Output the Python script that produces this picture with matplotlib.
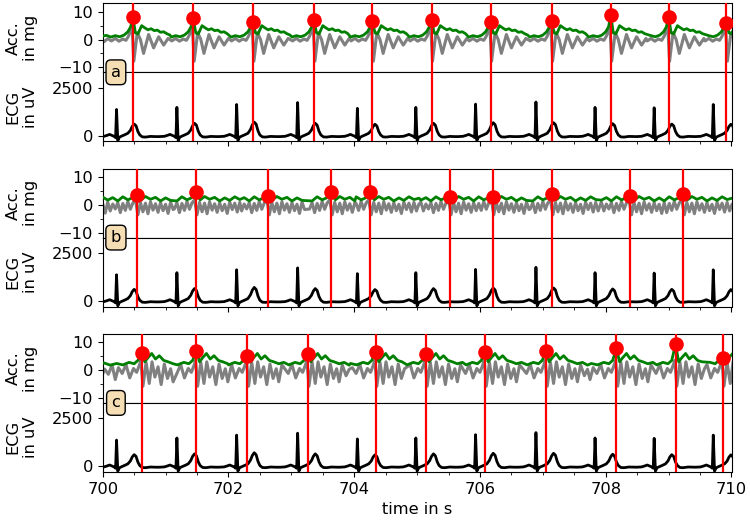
import numpy as np
import matplotlib
matplotlib.use("Agg")
import matplotlib.pyplot as plt
from matplotlib.ticker import MultipleLocator, FixedLocator

# ---------------- data ----------------
x_limits = (700, 710)
panel_labels = ["a", "b", "c"]

# ECG (same recording in all three panels)
ecg_r_times = [700.22, 701.18, 702.13, 703.10, 704.05, 704.98, 705.93, 706.89, 707.83, 708.77, 709.71]
ecg_r_heights = [1360, 1470, 1620, 1720, 1420, 1470, 1640, 1750, 1470, 1450, 1620]
ecg_t_heights = [600, 640, 700, 640, 590, 640, 670, 670, 620, 600, 590]
# shape of one beat: offset from R (s), base value (uV), share of R, share of T
ecg_beat_offsets = [-0.45, -0.36, -0.28, -0.20, -0.15, -0.11, -0.07, -0.04, -0.015, 0.0, 0.02, 0.045, 0.08,
                    0.13, 0.18, 0.22, 0.25, 0.28, 0.31, 0.34, 0.37, 0.41, 0.46, 0.54, 0.62, 0.70]
ecg_beat_values = [-50, -40, -55, -40, 10, 60, 0, -40, -110, 0, -260, -90, -30,
                   40, 120, 0, 0, 0, 0, 0, 30, -70, -80, -45, -55, -40]
ecg_beat_rshare = [0, 0, 0, 0, 0, 0, 0, 0, 0, 1, 0, 0, 0,
                   0, 0, 0, 0, 0, 0, 0, 0, 0, 0, 0, 0, 0]
ecg_beat_tshare = [0, 0, 0, 0, 0, 0, 0, 0, 0, 0, 0, 0, 0,
                   0, 0, 0.45, 0.8, 1.0, 0.85, 0.35, 0, 0, 0, 0, 0, 0]

# detected peaks (red lines / dots) per panel
a_peak_times = [700.48, 701.44, 702.39, 703.36, 704.29, 705.23, 706.17, 707.14, 708.08, 709.00, 709.92]
a_peak_values = [8.1, 7.6, 6.3, 6.9, 6.6, 7.2, 6.3, 6.5, 8.8, 8.1, 5.9]
b_peak_times = [700.54, 701.48, 702.63, 703.63, 704.25, 705.52, 706.20, 707.14, 708.39, 709.23]
b_peak_values = [3.6, 4.5, 3.3, 4.8, 4.5, 3.0, 3.0, 3.8, 3.3, 3.8]
c_peak_times = [700.62, 701.49, 702.30, 703.26, 704.34, 705.14, 706.08, 707.05, 708.17, 709.11, 709.86]
c_peak_values = [6.1, 7.0, 5.2, 5.7, 6.7, 5.7, 6.5, 7.0, 7.8, 9.3, 4.5]

# acceleration shape around each detected peak (offset in s, value in mg)
a_raw_offsets = [-0.70, -0.64, -0.58, -0.52, -0.46, -0.40, -0.34, -0.28, -0.22, -0.16, -0.11, -0.07,
                 -0.04, -0.015, 0.015, 0.07, 0.12, 0.17, 0.25, 0.33, 0.41, 0.49, 0.56, 0.63, 0.70,
                 0.77, 0.84, 0.92, 1.00]
a_raw_values = [-0.3, 0.3, -0.6, 0.2, -0.8, 0.3, -0.5, 0.4, -0.6, 0.2, -0.3, 1.2,
                3.0, 5.5, -7.8, 2.5, 0.0, -5.0, 1.8, -3.0, 1.0, -2.0, 0.4, -1.2, 0.3,
                -0.9, 0.2, -0.5, 0.0]
a_env_offsets = [-0.70, -0.63, -0.56, -0.49, -0.42, -0.35, -0.28, -0.21, -0.14, -0.08, -0.035, 0.0,
                 0.04, 0.08, 0.14, 0.19, 0.24, 0.29, 0.34, 0.39, 0.44, 0.49, 0.54, 0.59,
                 0.65, 0.72, 0.80, 0.88, 0.95, 1.00]
a_env_values = [1.6, 1.1, 1.7, 1.2, 1.5, 0.9, 1.4, 1.0, 1.6, 2.8, 4.6, 0.0,
                2.4, 2.0, 5.0, 4.2, 3.5, 3.9, 3.2, 3.4, 2.6, 2.8, 2.1, 1.6,
                1.9, 1.3, 1.6, 1.1, 1.5, 1.3]

b_raw_offsets = [-0.70, -0.66, -0.62, -0.58, -0.54, -0.50, -0.46, -0.42, -0.38, -0.34, -0.30, -0.26,
                 -0.22, -0.18, -0.14, -0.10, -0.06, -0.02, 0.02, 0.06, 0.10, 0.14, 0.18, 0.22,
                 0.26, 0.30, 0.34, 0.38, 0.42, 0.46, 0.50, 0.54, 0.58, 0.62, 0.66, 0.70,
                 0.74, 0.78, 0.82, 0.86, 0.90, 0.94, 0.98]
b_raw_values = [0.6, -2.4, 0.9, -1.8, 0.4, -3.0, 1.0, -2.2, 0.3, -1.5, 0.8, -2.8,
                0.5, -2.0, 1.2, -1.6, 0.7, 1.8, -3.6, 0.9, -2.5, 0.6, -3.2, 1.1,
                -1.9, 0.4, -2.7, 0.8, -2.1, 0.2, -3.1, 1.0, -1.7, 0.6, -2.6, 0.9,
                -2.2, 0.3, -1.4, 0.7, -2.9, 0.5, -2.0]
b_env_offsets = [-0.70, -0.62, -0.54, -0.46, -0.38, -0.30, -0.22, -0.14, -0.07, 0.0, 0.07, 0.14,
                 0.22, 0.30, 0.38, 0.46, 0.54, 0.62, 0.70, 0.78, 0.86, 0.94, 1.00]
b_env_values = [2.4, 1.5, 2.8, 1.7, 2.6, 1.4, 2.9, 1.8, 2.5, 0.0, 1.8, 3.0,
                2.0, 2.7, 1.4, 2.5, 1.6, 2.9, 1.9, 2.4, 1.3, 2.6, 2.0]

c_raw_offsets = [-0.70, -0.64, -0.59, -0.53, -0.47, -0.42, -0.37, -0.31, -0.25, -0.19, -0.13, -0.08,
                 -0.04, -0.012, 0.02, 0.07, 0.12, 0.165, 0.21, 0.26, 0.31, 0.36, 0.41, 0.46,
                 0.50, 0.55, 0.61, 0.66, 0.72, 0.77, 0.83, 0.88, 0.94, 1.00]
c_raw_values = [1.2, -2.6, 0.4, -1.5, 1.8, -3.4, 0.9, -1.2, 2.0, -2.8, 0.6, -0.8,
                1.6, 3.5, -5.8, 2.8, -4.8, 3.0, -2.5, 1.2, -5.2, 2.2, -3.0, 0.5,
                -4.2, 1.9, -2.0, 0.3, -3.4, 1.4, -1.6, 0.8, -2.4, 0.5]
c_env_offsets = [-0.70, -0.60, -0.50, -0.40, -0.30, -0.20, -0.12, -0.06, 0.0, 0.05, 0.10, 0.16,
                 0.22, 0.28, 0.35, 0.42, 0.50, 0.58, 0.66, 0.74, 0.82, 0.90, 1.00]
c_env_values = [2.0, 2.6, 1.8, 2.4, 1.9, 2.8, 2.3, 3.5, 0.0, 3.0, 4.5, 6.0,
                4.0, 5.2, 3.5, 3.0, 2.3, 2.8, 1.8, 2.4, 1.7, 2.5, 2.0]

peak_times = [a_peak_times, b_peak_times, c_peak_times]
peak_values = [a_peak_values, b_peak_values, c_peak_values]
raw_shapes = [(a_raw_offsets, a_raw_values), (b_raw_offsets, b_raw_values), (c_raw_offsets, c_raw_values)]
env_shapes = [(a_env_offsets, a_env_values), (b_env_offsets, b_env_values), (c_env_offsets, c_env_values)]


def assemble(times, offsets, values, split=0.62, peak=None):
    """Place the read beat shape at every event time (no interpolation)."""
    offsets = np.asarray(offsets, float)
    ts, vs = [], []
    for i, t0 in enumerate(times):
        lo = -np.inf if i == 0 else times[i - 1] + split * (t0 - times[i - 1]) - t0
        hi = np.inf if i == len(times) - 1 else split * (times[i + 1] - t0)
        vals = np.asarray(values, float).copy()
        if peak is not None:
            vals[offsets == 0.0] = peak[i]
        m = (offsets >= lo) & (offsets < hi)
        ts.append(t0 + offsets[m])
        vs.append(vals[m])
    return np.concatenate(ts), np.concatenate(vs)


def assemble_ecg():
    off = np.asarray(ecg_beat_offsets, float)
    base = np.asarray(ecg_beat_values, float)
    rs = np.asarray(ecg_beat_rshare, float)
    tsh = np.asarray(ecg_beat_tshare, float)
    ts, vs = [], []
    n = len(ecg_r_times)
    for i, t0 in enumerate(ecg_r_times):
        lo = -np.inf if i == 0 else ecg_r_times[i - 1] + 0.68 * (t0 - ecg_r_times[i - 1]) - t0
        hi = np.inf if i == n - 1 else 0.68 * (ecg_r_times[i + 1] - t0)
        v = base + rs * ecg_r_heights[i] + tsh * ecg_t_heights[i]
        m = (off >= lo) & (off < hi)
        ts.append(t0 + off[m])
        vs.append(v[m])
    return np.concatenate(ts), np.concatenate(vs)


# ---------------- figure ----------------
plt.rcParams['font.family'] = ['DejaVu Sans']
FS = 11.7
fig = plt.figure(figsize=(7.5, 5.24), dpi=100)
W_px, H_px = 750.0, 524.0
left_px, right_px = 102.7, 731.5
panel_tops = [3.3, 168.6, 333.9]
half = 69.0

ecg_t, ecg_v = assemble_ecg()

for k in range(3):
    top = panel_tops[k]
    ax_acc = fig.add_axes([left_px / W_px, 1 - (top + half) / H_px, (right_px - left_px) / W_px, half / H_px])
    ax_ecg = fig.add_axes([left_px / W_px, 1 - (top + 2 * half) / H_px, (right_px - left_px) / W_px, half / H_px])

    rt, rv = assemble(peak_times[k], *raw_shapes[k])
    et, ev = assemble(peak_times[k], *env_shapes[k], peak=peak_values[k])
    ax_acc.plot(rt, rv, color='gray', lw=2.2, zorder=2)
    ax_acc.plot(et, ev, color='green', lw=2.0, zorder=3)
    for t in peak_times[k]:
        ax_acc.axvline(t, color='red', lw=1.6, zorder=4)
        ax_ecg.axvline(t, color='red', lw=1.6, zorder=4)
    ax_acc.plot(peak_times[k], peak_values[k], 'o', color='red', ms=9.5, zorder=5)

    ax_ecg.plot(ecg_t, ecg_v, color='black', lw=2.0, zorder=3)

    for ax in (ax_acc, ax_ecg):
        ax.set_xlim(*x_limits)
        ax.xaxis.set_major_locator(MultipleLocator(2))
        ax.xaxis.set_minor_locator(MultipleLocator(0.5))
        ax.tick_params(labelsize=FS)
    ax_acc.tick_params(axis='x', which='both', bottom=False, labelbottom=False)
    ax_acc.set_ylim(-11.8, 13.05)
    ax_acc.yaxis.set_major_locator(FixedLocator([-10, 0, 10]))
    ax_acc.yaxis.set_minor_locator(FixedLocator([-5, 5]))
    ax_ecg.set_ylim(-300, 3300)
    ax_ecg.yaxis.set_major_locator(FixedLocator([0, 2500]))
    if k < 2:
        ax_ecg.tick_params(axis='x', labelbottom=False)
    else:
        ax_ecg.set_xlabel('time in s', fontsize=FS)

    ax_acc.set_ylabel('Acc.\nin mg', fontsize=FS)
    ax_ecg.set_ylabel('ECG\nin uV', fontsize=FS)
    ax_acc.yaxis.set_label_coords(-0.103, 0.5)
    ax_ecg.yaxis.set_label_coords(-0.103, 0.5)

    ax_ecg.text(0.021, 1.0, panel_labels[k], transform=ax_ecg.transAxes, fontsize=FS,
                ha='center', va='center', zorder=10,
                bbox=dict(boxstyle='round,pad=0.3', fc='wheat', ec='black', lw=1.0))

fig.savefig('out.png', dpi=100)
